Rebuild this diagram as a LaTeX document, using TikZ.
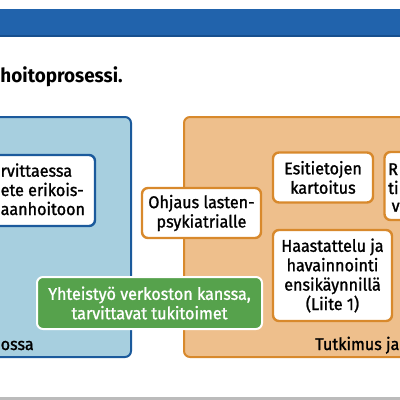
\documentclass[tikz,border=0pt]{standalone}
\usepackage{fontspec}
\setmainfont{Fira Sans}[FakeStretch=0.95, FakeBold=1.3]
\newfontfamily\titlefont{Fira Sans}[FakeStretch=0.97]
\definecolor{bandblue}{HTML}{2163AC}
\definecolor{bandedge}{HTML}{174F8E}
\definecolor{panelblue}{HTML}{A7CFDF}
\definecolor{edgeblue}{HTML}{1B5A9C}
\definecolor{panelorange}{HTML}{EEBF8C}
\definecolor{edgeorange}{HTML}{D8892C}
\definecolor{boxgreen}{HTML}{56A24C}
\definecolor{rulegray}{HTML}{BBBBBB}
\begin{document}
\begin{tikzpicture}[x=1pt,y=-1pt,
  txt/.style={font=\fontsize{17}{19.4}\selectfont, text=black, align=center, inner sep=0pt},
  panel/.style={rounded corners=6pt, line width=2pt, inner sep=0pt},
  bluepanel/.style={panel, draw=edgeblue, fill=panelblue},
  orangepanel/.style={panel, draw=edgeorange, fill=panelorange},
  wbox/.style={rounded corners=6pt, line width=2.4pt, fill=white, inner sep=0pt, txt},
  bluebox/.style={wbox, draw=edgeblue},
  orangebox/.style={wbox, draw=edgeorange},
  greenbox/.style={rounded corners=6pt, line width=2pt, draw=white, fill=boxgreen, inner sep=0pt, txt, text=white}
]
\useasboundingbox (0,0) rectangle (400,400);
\clip (0,0) rectangle (400,400);
\fill[white] (0,0) rectangle (400,400);
% top band
\fill[bandblue] (0,9) rectangle (400,37);
\fill[bandedge] (0,35) rectangle (400,37);
% bottom rule
\fill[rulegray] (0,396.5) rectangle (400,400);
% title
\node[anchor=base west, inner sep=0pt, font=\fontsize{19.5}{22}\selectfont\titlefont\bfseries] (title) at (0.3,82) {hoitoprosessi.};
% panels
\node[bluepanel, minimum width=160pt, minimum height=240pt] (bpanel) at (51,237) {};
\node[orangepanel, minimum width=240pt, minimum height=240pt] (opanel) at (304,237) {};
% left white box
\node[bluebox, minimum width=130pt, minimum height=71pt] (lbox) at (30,190.5) {};
\node[txt, anchor=base west] (lb1) at (0.5,176.7) {rvittaessa};
\node[txt, anchor=base west] (lb2) at (0.5,196) {ete erikois-};
\node[txt, anchor=base west] (lb3) at (0.5,215) {aanhoitoon};
% orange boxes
\node[orangebox, minimum width=119pt, minimum height=50pt] (ohj) at (201.5,213) {Ohjaus lasten-\\psykiatrialle};
\node[orangebox, minimum width=100pt, minimum height=50pt] (esi) at (323,177.5) {Esitietojen\\kartoitus};
\node[orangebox, minimum width=50pt, minimum height=68pt] (rbox) at (409.5,186) {};
\node[txt, anchor=base west] (r1) at (388,175) {R};
\node[txt, anchor=base west] (r2) at (388,194) {ti};
\node[txt, anchor=base west] (r3) at (391.5,211.7) {v};
\node[orangebox, minimum width=119pt, minimum height=91pt] (haas) at (332.5,275.5) {Haastattelu ja\\havainnointi\\ensikäynnillä\\(Liite 1)};
% green box
\node[greenbox, minimum width=225pt, minimum height=52pt] (yht) at (149.5,303) {Yhteistyö verkoston kanssa,\\tarvittavat tukitoimet};
% panel captions
\node[txt, anchor=base west] (cap1) at (0.5,350) {ossa};
\node[txt, anchor=base east] (cap2) at (399.6,350) {Tutkimus ja};
\end{tikzpicture}
\end{document}
